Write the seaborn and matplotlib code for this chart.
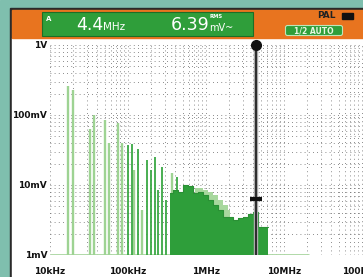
import matplotlib
matplotlib.use("Agg")
import matplotlib.pyplot as plt
import seaborn as sns
import pandas as pd
from matplotlib.patches import Rectangle, FancyBboxPatch

# Spectrum data (Hz, V)
light_freqs = [17.0e3, 19.7e3, 32.6e3, 36.6e3, 50.7e3, 57.1e3, 74.5e3, 83.8e3, 119e3, 151e3, 367e3]
light_levels = [0.26, 0.228, 0.063, 0.10, 0.085, 0.040, 0.077, 0.040, 0.0164, 0.0044, 0.0148]
dark_freqs = [100e3, 112e3, 134e3, 175e3, 197e3, 222e3, 243e3, 273e3, 307e3, 425e3]
dark_levels = [0.037, 0.038, 0.033, 0.0228, 0.0164, 0.025, 0.0085, 0.018, 0.0061, 0.013]

dense_freqs = [345e3, 401e3, 464e3, 538e3, 624e3, 723e3, 838e3, 971e3, 1.125e6, 1.30e6, 1.51e6,
               1.75e6, 2.03e6, 2.35e6, 2.73e6, 3.16e6, 3.66e6, 4.25e6, 4.92e6, 5.70e6, 6.24e6]
dense_levels = [0.0077, 0.0085, 0.0079, 0.0100, 0.0098, 0.0077, 0.0079, 0.0072, 0.0061, 0.0052, 0.0044,
                0.0035, 0.0035, 0.0032, 0.0034, 0.0035, 0.0039, 0.0041, 0.0025, 0.0025, 0.0025]
halo_freqs = [723e3, 838e3, 971e3, 1.125e6, 1.30e6, 1.51e6, 1.75e6, 2.03e6]
halo_levels = [0.0091, 0.0091, 0.0085, 0.0079, 0.0072, 0.0061, 0.0052, 0.0044]

cursor_freq = 4.4e6
cursor_level = 6.39e-3

x_ticks = [1e4, 1e5, 1e6, 1e7, 1e8]
x_labels = ['10kHz', '100kHz', '1MHz', '10MHz', '100MHz']
y_ticks = [1e-3, 1e-2, 1e-1, 1]
y_labels = ['1mV', '10mV', '100mV', '1V']

sns.set_style('white')
plt.rcParams['font.family'] = ['DejaVu Sans']
narrow = ['DejaVu Sans Condensed', 'Liberation Sans Narrow', 'DejaVu Sans']

W, H = 363, 277
fig = plt.figure(figsize=(W / 100, H / 100), dpi=100)

# background layer in pixel coordinates
bg = fig.add_axes([0, 0, 1, 1])
bg.set_xlim(0, W)
bg.set_ylim(H, 0)
bg.axis('off')
bg.add_patch(Rectangle((0, 0), W, H, color='#7fbfae'))
bg.add_patch(Rectangle((10, 8), W, H, color='#2a2a2a'))
bg.add_patch(Rectangle((12, 38), W, H, color='white'))
bg.add_patch(Rectangle((12, 10), W, 28, color='#e8741f'))
bg.add_patch(Rectangle((42, 12), 211, 24, color='#2f9e3a', ec='#1d6e26', lw=0.8))
bg.text(46, 19, 'A', color='white', fontsize=5, fontweight='bold', va='center')
bg.text(76, 25, '4.4', color='white', fontsize=12.5, family=narrow, va='center')
bg.text(103, 27, 'MHz', color='white', fontsize=7.5, family=narrow, va='center')
bg.text(171, 25, '6.39', color='white', fontsize=12.5, family=narrow, va='center')
bg.text(210, 16, 'RMS', color='white', fontsize=3.8, fontweight='bold', va='center')
bg.text(209, 28, 'mV~', color='white', fontsize=7, family=narrow, va='center')
bg.text(317, 16, 'PAL', color='#222222', fontsize=6.5, fontweight='bold', va='center')
bg.add_patch(Rectangle((342, 13), 11, 6, color='#111111'))
bg.add_patch(FancyBboxPatch((286, 26), 56, 9, boxstyle='round,pad=0.5,rounding_size=2',
                            fc='#2f9e3a', ec='#bfe5b8', lw=0.8))
bg.text(314, 30.5, '1/2 AUTO', color='#e6f5e0', fontsize=5.5, fontweight='bold', ha='center', va='center')

# spectrum axes
ax = fig.add_axes([50 / W, (H - 255) / H, 313 / W, 210 / H])
ax.set_facecolor('none')
ax.set_xscale('log')
ax.set_yscale('log')
ax.set_xlim(1e4, 1.03e8)
ax.set_ylim(1e-3, 1)
for s in ax.spines.values():
    s.set_visible(False)
ax.grid(which='both', axis='both', color='#666666', linestyle=(0, (1, 4)), lw=0.6)

ax.hlines(1e-3, 1e4, 2.1e7, color='#a9d6a0', lw=2, zorder=2)
ax.vlines(light_freqs, 1e-3, light_levels, color='#9ed393', lw=1.7, zorder=3)
ax.vlines(dark_freqs, 1e-3, dark_levels, color='#3aa844', lw=1.3, zorder=3)

halo = pd.DataFrame({'f': halo_freqs, 'v': halo_levels})
dense = pd.DataFrame({'f': dense_freqs, 'v': dense_levels})
ax.fill_between(halo['f'], 1e-3, halo['v'], step='mid', color='#a8d89e', lw=0, zorder=3)
ax.fill_between(dense['f'], 1e-3, dense['v'], step='mid', color='#2e9e3a', lw=0, zorder=4)
sns.lineplot(data=dense, x='f', y='v', drawstyle='steps-mid', color='#2a9035', lw=0.8, ax=ax, zorder=4)

# cursor
ax.axvline(cursor_freq, color='#aaaaaa', lw=3.2, zorder=5)
ax.axvline(cursor_freq, color='#2b2b2b', lw=1.4, zorder=6)
ax.plot([cursor_freq], [1], marker='o', ms=7, color='#111111', clip_on=False, zorder=7)
ax.plot([cursor_freq], [cursor_level], marker='_', ms=8, mew=3, color='#111111', zorder=7)

ax.set_xticks(x_ticks)
ax.set_xticklabels(x_labels)
ax.set_yticks(y_ticks)
ax.set_yticklabels(y_labels)
ax.minorticks_on()
ax.tick_params(which='both', length=0)
ax.tick_params(axis='x', pad=9)
ax.tick_params(axis='y', pad=2)
ax.xaxis.set_minor_formatter(plt.NullFormatter())
ax.yaxis.set_minor_formatter(plt.NullFormatter())
for lab in ax.get_xticklabels() + ax.get_yticklabels():
    lab.set_fontsize(6.5)
    lab.set_fontweight('bold')
    lab.set_color('#111111')
ax.set_xlabel('')
ax.set_ylabel('')

fig.savefig('out.png', dpi=100)
